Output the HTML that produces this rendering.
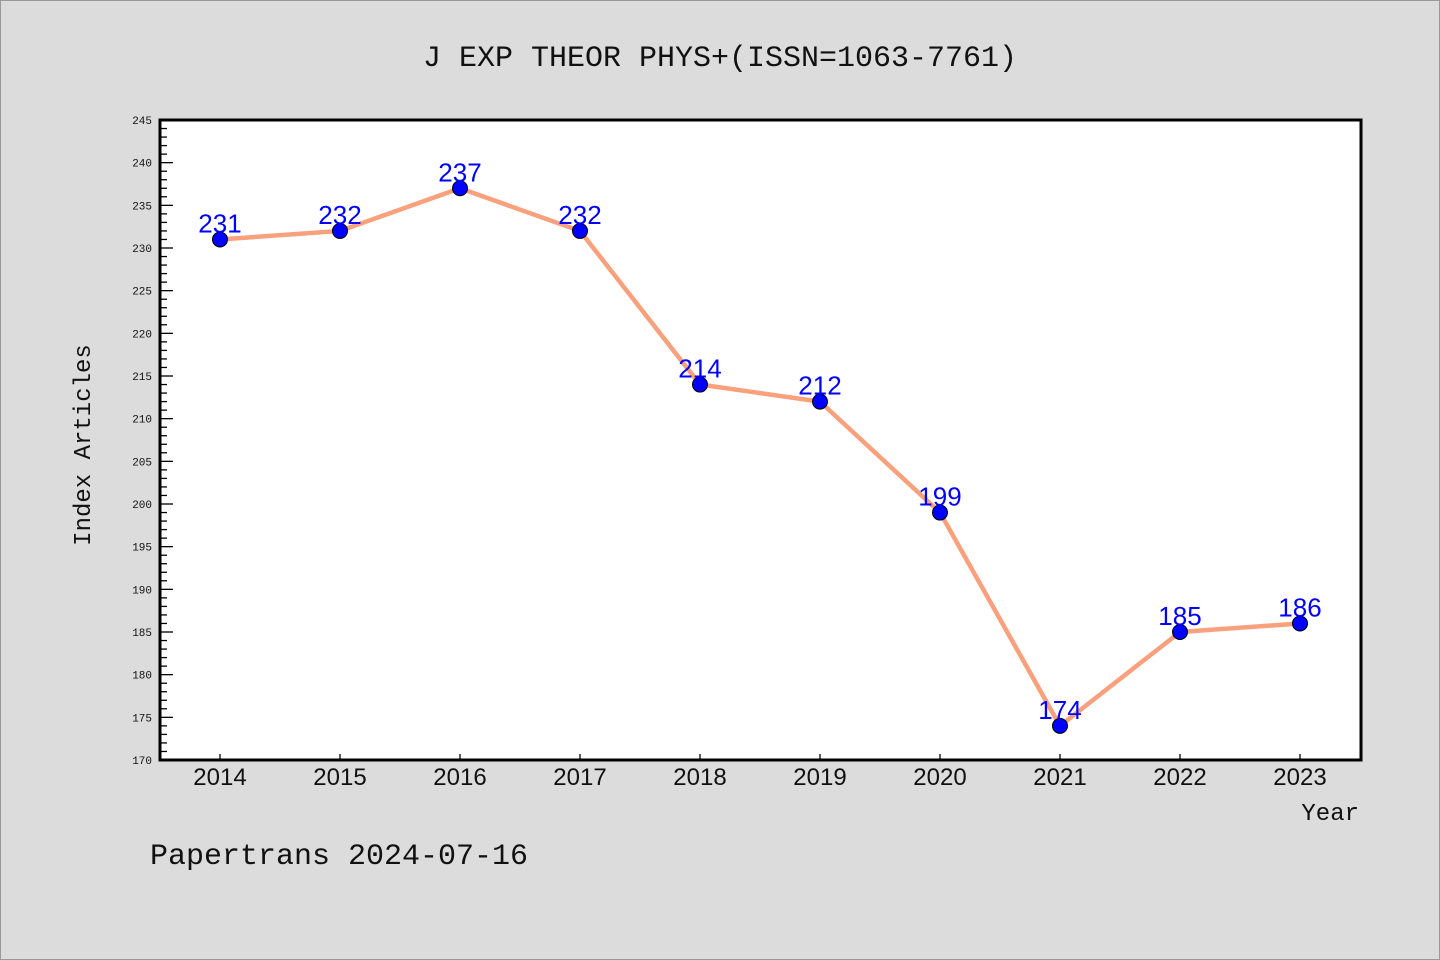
<!DOCTYPE html>
<html><head><meta charset="utf-8"><style>
html,body{margin:0;padding:0;background:#dcdcdc;}
svg{display:block;font-family:"Liberation Mono","DejaVu Sans Mono",monospace;}
</style></head><body>
<svg id="chart" width="1440" height="960" xmlns="http://www.w3.org/2000/svg">
<rect x="0.5" y="0.5" width="1439" height="959" fill="#dcdcdc" stroke="#999"/>
<text x="720" y="66" font-size="30" text-anchor="middle" fill="#111">J EXP THEOR PHYS+(ISSN=1063-7761)</text>
<rect x="160" y="120" width="1201" height="640" fill="#fff"/>
<g id="yaxis"></g>
<g id="xaxis"></g>
<g id="series"></g>
<rect x="160" y="120" width="1201" height="640" fill="none" stroke="#000" stroke-width="3"/>
<text transform="translate(90,445) rotate(-90)" font-size="24" text-anchor="middle" fill="#111">Index Articles</text>
<text x="1359" y="820" font-size="24" text-anchor="end" fill="#111">Year</text>
<text x="150" y="864" font-size="30" fill="#111">Papertrans 2024-07-16</text>
</svg>
<script>
const years = ["2014","2015","2016","2017","2018","2019","2020","2021","2022","2023"];
const articles = [231,232,237,232,214,212,199,174,185,186];
const yTickLabels = [170,175,180,185,190,195,200,205,210,215,220,225,230,235,240,245];

const NS="http://www.w3.org/2000/svg";
const yMin=170,yMax=245,plotTop=120,plotBottom=760,plotLeft=160;
function yScale(v){return plotBottom-(v-yMin)/(yMax-yMin)*(plotBottom-plotTop);}
function xScale(i){return 220+i*120;}
function mk(tag,attrs,parent){const e=document.createElementNS(NS,tag);for(const k in attrs)e.setAttribute(k,attrs[k]);parent.appendChild(e);return e;}

const ya=document.getElementById('yaxis');
for(let v=yMin;v<=yMax;v++){
  const major=(v%5===0);
  const t=mk('line',{x1:plotLeft,x2:plotLeft+(major?13:7),y1:yScale(v),y2:yScale(v),stroke:'#000','stroke-width':1.3},ya);
  
  
}
yTickLabels.forEach(v=>{
  const t=mk('text',{x:152,y:yScale(v)+4,'font-size':11,'text-anchor':'end',fill:'#111'},ya);
  t.textContent=v;
  
  
});
const xa=document.getElementById('xaxis');
years.forEach((y,i)=>{
  const t=mk('line',{x1:xScale(i),x2:xScale(i),y1:plotBottom,y2:plotBottom-6,stroke:'#000','stroke-width':1.3},xa);
  
  
  const l=mk('text',{x:xScale(i),y:785,'font-size':24,'text-anchor':'middle',fill:'#111','font-family':'Liberation Sans, sans-serif'},xa);
  l.textContent=y;
  
  
});
const s=document.getElementById('series');
const line=mk('polyline',{points:articles.map((v,i)=>xScale(i)+','+yScale(v)).join(' '),fill:'none',stroke:'#f9a07c','stroke-width':4.5,'stroke-linejoin':'round'},s);


articles.forEach((v,i)=>{
  const c=mk('circle',{cx:xScale(i),cy:yScale(v),r:7.5,fill:'#0000ff',stroke:'#000','stroke-width':1},s);
  
  
  const t=mk('text',{x:xScale(i),y:yScale(v)-7,'font-size':26,'text-anchor':'middle',fill:'#0000ff','font-family':'Liberation Sans, sans-serif'},s);
  t.textContent=v;
  
  
});
</script>
</body></html>
